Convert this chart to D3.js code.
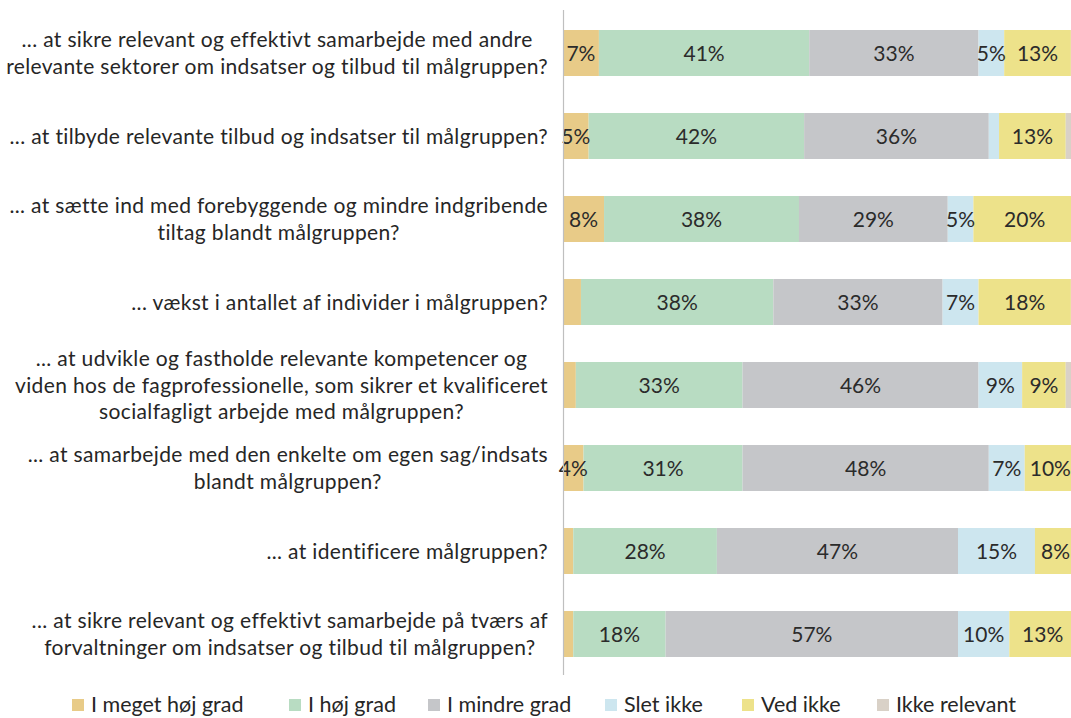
<!DOCTYPE html>
<html>
<head>
<meta charset="utf-8">
<script src="https://cdn.jsdelivr.net/npm/d3@7"></script>
<style>
  html, body { margin: 0; padding: 0; background: #fff; }
  svg { display: block; }
</style>
</head>
<body>
<svg id="chart" width="1071" height="718"></svg>
<script>
// ---- data ----
const categoryLines = [
  ["... at sikre relevant og effektivt samarbejde med andre", "relevante sektorer om indsatser og tilbud til målgruppen?"],
  ["... at tilbyde relevante tilbud og indsatser til målgruppen?"],
  ["... at sætte ind med forebyggende og mindre indgribende", "tiltag blandt målgruppen?"],
  ["... vækst i antallet af individer i målgruppen?"],
  ["... at udvikle og fastholde relevante kompetencer og", "viden hos de fagprofessionelle, som sikrer et kvalificeret", "socialfagligt arbejde med målgruppen?"],
  ["... at samarbejde med den enkelte om egen sag/indsats", "blandt målgruppen?"],
  ["... at identificere målgruppen?"],
  ["... at sikre relevant og effektivt samarbejde på tværs af", "forvaltninger om indsatser og tilbud til målgruppen?"]
];
const seriesNames = ["I meget høj grad", "I høj grad", "I mindre grad", "Slet ikke", "Ved ikke", "Ikke relevant"];
const megetHoj  = [7, 5, 8, 3.5, 2.5, 4, 2, 2];
const hoj       = [41, 42, 38, 37.5, 32.5, 31, 28, 18];
const mindre    = [33, 36, 29, 33, 46, 48, 47, 57];
const sletIkke  = [5, 2, 5, 7, 8.5, 7, 15, 10];
const vedIkke   = [13, 13, 20, 18, 8.5, 10, 8, 13];
const ikkeRel   = [1, 2, 0, 1, 2, 0, 0, 0];
const seriesColors = ["#E8CB88", "#B8DCC2", "#C5C6C9", "#CDE6EF", "#EDE28A", "#D9D1C7"];

const seriesValues = [megetHoj, hoj, mindre, sletIkke, vedIkke, ikkeRel];
const rows = categoryLines.map((lines, i) => {
  const r = { id: i, lines };
  seriesNames.forEach((s, k) => { r[s] = seriesValues[k][i]; });
  return r;
});

// ---- layout ----
const svg = d3.select("#chart");
const axisX = 563;
const labelRight = 548;
const fontFam = "Lato, 'Open Sans', sans-serif";

const x = d3.scaleLinear().domain([0, 100]).range([axisX, 1076]);
const y = d3.scaleBand().domain(rows.map(d => d.id)).range([11.5, 675.5]).paddingInner(0.446).paddingOuter(0.223);

const stack = d3.stack().keys(seriesNames);
const stacked = stack(rows);
const color = d3.scaleOrdinal().domain(seriesNames).range(seriesColors);

const barsG = svg.append("g");
stacked.forEach(layer => {
  const g = barsG.append("g").attr("fill", color(layer.key));
  g.selectAll("rect").data(layer).join("rect")
    .attr("x", d => x(d[0]))
    .attr("width", d => Math.max(0, x(d[1]) - x(d[0])))
    .attr("y", d => y(d.data.id))
    .attr("height", y.bandwidth());
});

// data labels
const labG = svg.append("g")
  .attr("font-family", fontFam).attr("font-size", 21).attr("fill", "#2b2b2b")
  .attr("text-anchor", "middle");
stacked.forEach(layer => {
  labG.selectAll(null).data(layer.filter(d => (d[1] - d[0]) >= 4)).join("text")
    .attr("x", d => (x(d[0]) + x(d[1])) / 2)
    .attr("y", d => y(d.data.id) + y.bandwidth() / 2)
    .attr("dy", "0.36em")
    .text(d => Math.round(d[1] - d[0]) + "%");
});

// axis line
svg.append("line")
  .attr("x1", axisX + 0.5).attr("x2", axisX + 0.5)
  .attr("y1", 10).attr("y2", 675)
  .attr("stroke", "#bfbfbf").attr("stroke-width", 1.2);

// category labels (multi-line, centered lines, block right-aligned)
const catG = svg.append("g").attr("font-family", fontFam).attr("fill", "#262626")
  .attr("letter-spacing", 0.35);
const catFont = 21;
const lineH = 26.5;
rows.forEach(r => {
  const g = catG.append("g");
  const texts = r.lines.map(l => g.append("text").attr("font-size", catFont).text(l));
  const widths = texts.map(t => t.node().getComputedTextLength());
  const maxW = d3.max(widths);
  const cx = labelRight - maxW / 2;
  const cy = y(r.id) + y.bandwidth() / 2;
  const n = r.lines.length;
  texts.forEach((t, j) => {
    t.attr("text-anchor", "middle").attr("x", cx)
     .attr("y", cy + (j - (n - 1) / 2) * lineH).attr("dy", "0.36em");
  });
});

// legend
const legendX = [72, 289, 428, 605, 742, 877];
const legG = svg.append("g").attr("font-family", fontFam).attr("font-size", 21.5).attr("fill", "#262626");
seriesNames.forEach((s, i) => {
  legG.append("rect").attr("x", legendX[i]).attr("y", 699).attr("width", 12).attr("height", 12).attr("fill", color(s));
  legG.append("text").attr("x", legendX[i] + 19).attr("y", 712).text(s);
});
</script>
</body>
</html>
